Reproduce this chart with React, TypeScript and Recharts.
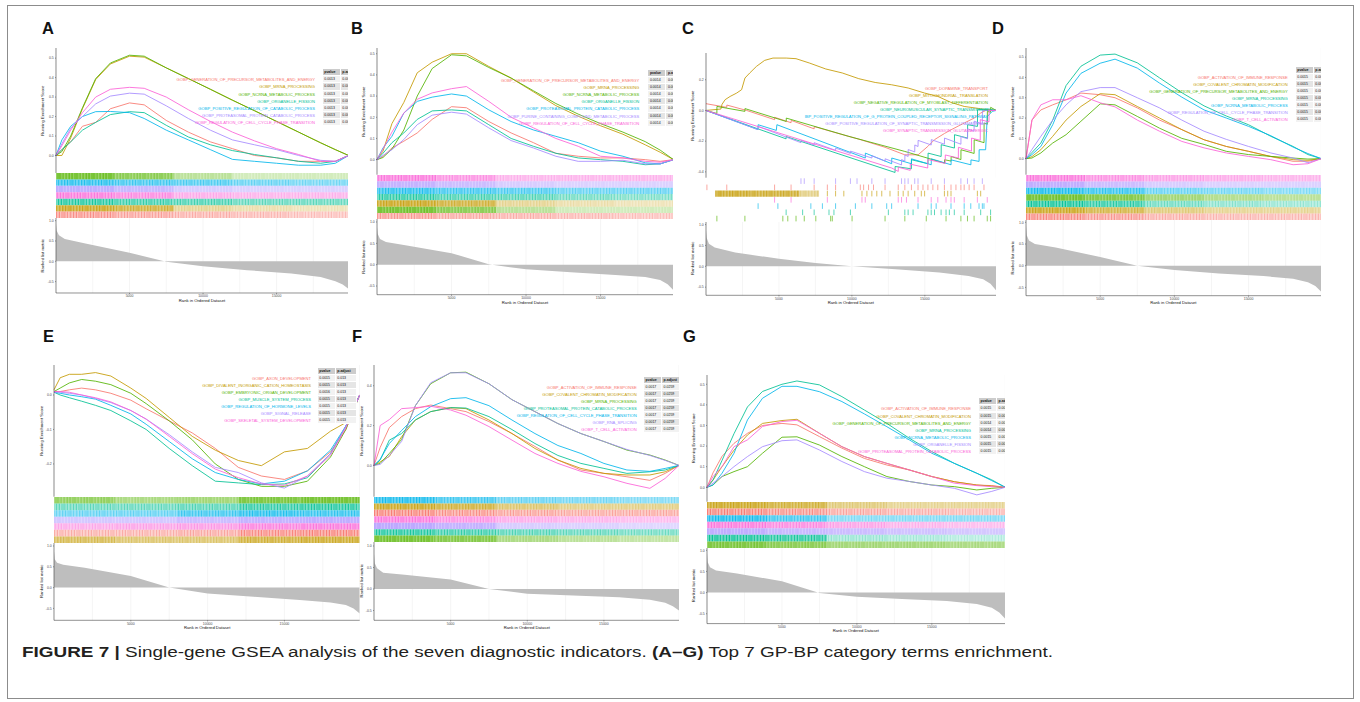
import React from "react";
import {
  Area,
  AreaChart,
  CartesianGrid,
  ComposedChart,
  Line,
  LineChart,
  ReferenceArea,
  ReferenceLine,
  XAxis,
  YAxis,
} from "recharts";

const FONT = '"Liberation Sans", Arial, Helvetica, sans-serif';
const N = 19900;
const colors = ["#F8766D", "#C49A00", "#53B400", "#00C094", "#00B6EB", "#A58AFF", "#FB61D7"];
const gridX = [2500, 5000, 7500, 10000, 12500, 15000, 17500];
const rankTicks = [5000, 10000, 15000];
const metricTicks = [-0.5, 0, 0.5, 1];
const esX = [0, 400, 1000, 1800, 2700, 3700, 5000, 6000, 7500, 9000, 10500, 12000, 13500, 15000, 16500, 18000, 19000, 19900];
const metricX = [0, 50, 200, 600, 2000, 5000, 7500, 10000, 13000, 16000, 18000, 19000, 19500, 19900];
const rugEdges = [0, 4000, 8000, 12000, 16000, 19900];

// ---- A ----
const termsA = [
  "GOBP_GENERATION_OF_PRECURSOR_METABOLITES_AND_ENERGY",
  "GOBP_MRNA_PROCESSING",
  "GOBP_NCRNA_METABOLIC_PROCESS",
  "GOBP_ORGANELLE_FISSION",
  "GOBP_POSITIVE_REGULATION_OF_CATABOLIC_PROCESS",
  "GOBP_PROTEASOMAL_PROTEIN_CATABOLIC_PROCESS",
  "GOBP_REGULATION_OF_CELL_CYCLE_PHASE_TRANSITION",
];
const pvalA = ["0.0013", "0.0013", "0.0013", "0.0013", "0.0013", "0.0013", "0.0013"];
const padjA = ["0.0098", "0.0098", "0.0098", "0.0098", "0.0098", "0.0098", "0.0098"];
const esA = [
  [0, 0.03, 0.07, 0.15, 0.17, 0.24, 0.27, 0.26, 0.18, 0.12, 0.07, 0.035, 0.0, -0.012, -0.03, -0.03, -0.03, 0],
  [0, 0.0, 0.09, 0.24, 0.39, 0.47, 0.51, 0.505, 0.45, 0.395, 0.34, 0.284, 0.23, 0.175, 0.12, 0.065, 0.03, 0],
  [0, 0.02, 0.1, 0.245, 0.395, 0.475, 0.515, 0.51, 0.45, 0.395, 0.34, 0.284, 0.23, 0.175, 0.12, 0.065, 0.03, 0],
  [0, 0.03, 0.07, 0.13, 0.17, 0.21, 0.225, 0.22, 0.155, 0.095, 0.055, 0.025, 0.005, -0.012, -0.03, -0.04, -0.03, 0],
  [0, 0.08, 0.15, 0.2, 0.225, 0.226, 0.22, 0.19, 0.13, 0.08, 0.03, -0.02, -0.03, -0.04, -0.05, -0.05, -0.04, 0],
  [0, 0.06, 0.14, 0.2, 0.265, 0.305, 0.32, 0.315, 0.255, 0.19, 0.13, 0.08, 0.055, 0.03, 0.0, -0.025, -0.03, 0],
  [0, 0.05, 0.13, 0.22, 0.3, 0.34, 0.35, 0.345, 0.3, 0.235, 0.175, 0.12, 0.075, 0.035, 0.005, -0.03, -0.03, 0],
];
const rugOrderA = [2, 4, 5, 6, 3, 1, 0];
const rugDensA = [
  [0.95, 0.75, 0.45, 0.3, 0.3],
  [0.85, 0.75, 0.7, 0.6, 0.55],
  [0.8, 0.7, 0.5, 0.45, 0.45],
  [0.85, 0.75, 0.55, 0.5, 0.5],
  [0.85, 0.75, 0.7, 0.6, 0.6],
  [0.95, 0.8, 0.45, 0.35, 0.3],
  [0.75, 0.65, 0.55, 0.5, 0.45],
];
const metricA = [0.93, 0.75, 0.64, 0.55, 0.44, 0.21, -0.01, -0.12, -0.22, -0.3, -0.39, -0.49, -0.57, -0.68];

// ---- B ----
const termsB = [
  "GOBP_GENERATION_OF_PRECURSOR_METABOLITES_AND_ENERGY",
  "GOBP_MRNA_PROCESSING",
  "GOBP_NCRNA_METABOLIC_PROCESS",
  "GOBP_ORGANELLE_FISSION",
  "GOBP_PROTEASOMAL_PROTEIN_CATABOLIC_PROCESS",
  "GOBP_PURINE_CONTAINING_COMPOUND_METABOLIC_PROCESS",
  "GOBP_REGULATION_OF_CELL_CYCLE_PHASE_TRANSITION",
];
const pvalB = ["0.0014", "0.0014", "0.0014", "0.0014", "0.0014", "0.0014", "0.0014"];
const padjB = ["0.0093", "0.0093", "0.0093", "0.0093", "0.0093", "0.0093", "0.0093"];
const esB = [
  [0, 0.015, 0.055, 0.087, 0.126, 0.19, 0.25, 0.245, 0.18, 0.126, 0.08, 0.03, 0.016, 0.008, 0.008, 0, -0.008, 0],
  [0, 0.04, 0.17, 0.27, 0.41, 0.46, 0.5, 0.5, 0.44, 0.385, 0.32, 0.255, 0.205, 0.16, 0.12, 0.07, 0.035, 0],
  [0, 0.01, 0.05, 0.14, 0.3, 0.43, 0.495, 0.49, 0.435, 0.385, 0.325, 0.265, 0.215, 0.17, 0.13, 0.085, 0.045, 0],
  [0, 0.03, 0.08, 0.126, 0.19, 0.23, 0.235, 0.23, 0.165, 0.1, 0.063, 0.03, 0.008, 0, -0.008, -0.024, -0.02, 0],
  [0, 0.055, 0.11, 0.22, 0.275, 0.295, 0.31, 0.3, 0.235, 0.18, 0.14, 0.11, 0.08, 0.04, 0.016, -0.015, -0.02, 0],
  [0, 0.02, 0.047, 0.095, 0.165, 0.21, 0.224, 0.215, 0.15, 0.09, 0.055, 0.016, -0.008, -0.008, -0.003, -0.02, -0.02, 0],
  [0, 0.05, 0.13, 0.22, 0.285, 0.315, 0.335, 0.345, 0.275, 0.2, 0.15, 0.1, 0.063, 0.016, 0.008, -0.008, -0.012, 0],
];
const rugOrderB = [6, 5, 4, 3, 1, 2, 0];
const rugDensB = [
  [0.85, 0.7, 0.5, 0.5, 0.5],
  [0.75, 0.65, 0.5, 0.45, 0.45],
  [0.85, 0.75, 0.7, 0.6, 0.6],
  [0.8, 0.7, 0.65, 0.55, 0.5],
  [0.95, 0.8, 0.45, 0.35, 0.3],
  [0.9, 0.75, 0.45, 0.3, 0.3],
  [0.7, 0.6, 0.55, 0.5, 0.45],
];
const metricB = [0.88, 0.72, 0.6, 0.53, 0.45, 0.27, 0.01, -0.11, -0.18, -0.24, -0.29, -0.36, -0.46, -0.6];

// ---- C ----
const termsC = [
  "GOBP_DOPAMINE_TRANSPORT",
  "GOBP_MITOCHONDRIAL_TRANSLATION",
  "GOBP_NEGATIVE_REGULATION_OF_MYOBLAST_DIFFERENTIATION",
  "GOBP_NEUROMUSCULAR_SYNAPTIC_TRANSMISSION",
  "IBP_POSITIVE_REGULATION_OF_G_PROTEIN_COUPLED_RECEPTOR_SIGNALING_PATHWAY",
  "GOBP_POSITIVE_REGULATION_OF_SYNAPTIC_TRANSMISSION_GLUTAMATERGIC",
  "GOBP_SYNAPTIC_TRANSMISSION_GLUTAMATERGIC",
];
const pvalC = ["0.0021", "0.0021", "0.0021", "0.0021", "0.0021", "0.0021", "0.0021"];
const padjC = ["0.0310", "0.0310", "0.0310", "0.0310", "0.0310", "0.0310", "0.0310"];
const esCRed = [[0, 0.044], [1420, 0.02], [1430, 0.035], [2780, 0.0], [4700, -0.06], [4710, -0.045], [5830, -0.08], [5840, -0.065], [7413, -0.12], [7420, -0.105], [8883, -0.145], [10579, -0.19], [12275, -0.24], [13630, -0.289], [14540, -0.289], [15210, -0.234], [15670, -0.19], [16350, -0.15], [16800, -0.126], [17700, -0.082], [18380, -0.05], [18830, -0.017], [19290, 0.005], [19900, 0]];
const esCGold = [[0, 0], [1018, 0.009], [1100, 0.04], [1310, 0.07], [1650, 0.091], [2100, 0.113], [2440, 0.135], [2670, 0.211], [3000, 0.244], [3460, 0.287], [4020, 0.326], [4590, 0.341], [5500, 0.341], [6170, 0.337], [7080, 0.309], [8210, 0.27], [9340, 0.244], [10470, 0.207], [11600, 0.182], [12730, 0.167], [13860, 0.146], [14990, 0.113], [15900, 0.091], [16800, 0.052], [17700, 0.026], [18830, 0.011], [19510, 0], [19900, 0]];
const esCGreen = [[0, 0.0], [744, -0.02], [750, 0.026], [2665, -0.006], [2670, 0.012], [5500, -0.072], [5505, -0.05], [9790, -0.169], [13630, -0.267], [16350, -0.343], [16355, -0.321], [16800, -0.33], [16805, -0.3], [17475, -0.32], [17480, -0.256], [18380, -0.28], [18385, -0.191], [19060, -0.21], [19065, -0.082], [19283, -0.09], [19290, -0.006], [19511, -0.012], [19515, 0.02], [19900, 0]];
const esCTeal = [[0, 0], [5490, -0.185], [5495, -0.17], [12960, -0.404], [12965, -0.365], [14080, -0.38], [14085, -0.321], [15220, -0.347], [15225, -0.278], [16120, -0.3], [16125, -0.223], [17030, -0.245], [17035, -0.158], [17930, -0.18], [17935, -0.093], [18610, -0.104], [18615, 0.005], [19400, 0.009], [19900, 0]];
const esCBlue = [[0, 0], [3565, -0.125], [3570, -0.093], [4820, -0.13], [4860, -0.093], [10920, -0.31], [10925, -0.278], [12730, -0.347], [12735, -0.31], [14080, -0.347], [14085, -0.315], [15440, -0.354], [15445, -0.315], [16800, -0.354], [16805, -0.322], [18160, -0.354], [18165, -0.322], [18720, -0.332], [18725, -0.256], [19170, -0.256], [19280, -0.04], [19630, -0.006], [19900, 0]];
const esCPurple = [[0, 0], [3565, -0.125], [3570, -0.104], [6510, -0.21], [6515, -0.195], [7413, -0.225], [7418, -0.21], [8883, -0.26], [8888, -0.245], [9900, -0.28], [9905, -0.265], [11370, -0.31], [11375, -0.295], [12275, -0.33], [12280, -0.315], [13405, -0.355], [13410, -0.32], [13631, -0.33], [13636, -0.29], [13857, -0.3], [13862, -0.255], [14310, -0.27], [14315, -0.225], [14536, -0.235], [14541, -0.195], [15440, -0.225], [15445, -0.19], [16345, -0.22], [16350, -0.18], [17475, -0.22], [17480, -0.17], [17927, -0.185], [17932, -0.12], [18380, -0.135], [18385, -0.07], [18945, -0.09], [18950, 0.0], [19900, 0]];
const esCPink = [[0, 0], [12730, -0.375], [13180, -0.397], [13185, -0.37], [14000, -0.39], [14005, -0.35], [15200, -0.375], [15205, -0.32], [16400, -0.345], [16405, -0.29], [17300, -0.31], [17305, -0.24], [18200, -0.265], [18205, -0.18], [18800, -0.195], [18805, -0.06], [19400, -0.075], [19405, 0.0], [19900, 0]];
const rugOrderC = [5, 0, 1, 6, 4, 3, 2];
const hitsCPurple = [6510, 6735, 7413, 8883, 9900, 10353, 11370, 12275, 13405, 13631, 13857, 14310, 14536, 15440, 16345, 17475, 17927, 18380, 18945];
const hitsCRed = [60, 1422, 4700, 5830, 7413, 8318, 8883, 10579, 10805, 11144, 11483, 12275, 13179, 13631, 14083, 14536, 14875, 15214, 15553, 15892, 16345, 16797, 17136, 17475, 17701, 18040, 18380, 19058];
const hitsCGold = [8318, 8883, 9448, 10692, 11031, 11370, 11709, 12049, 12614, 13179, 13518, 13857, 14310, 14762, 14988, 16345, 16571, 16797, 18605, 18832];
const bandsCGold = [[630, 3000, 0.9], [3000, 6400, 0.85], [6400, 7750, 0.5]];
const hitsCPink = [4700, 5830, 8318, 10692, 10918, 13179, 13405, 13744, 14536, 15440, 15892, 16457, 16797, 17023, 17701, 18605, 19283];
const hitsCBlue = [3570, 4926, 7187, 7979, 8883, 10240, 11370, 12388, 12727, 14536, 15440, 15779, 16797, 17701, 18153, 18718, 18945, 19058];
const hitsCTeal = [5492, 6623, 7413, 8431, 8770, 9900, 12501, 13631, 13857, 14196, 15214, 15440, 15666, 16118, 16457, 16684, 17023, 17701, 18832, 19511];
const hitsCGreen = [744, 2665, 5266, 5605, 6170, 6735, 7527, 8544, 8657, 10013, 12275, 13631, 15101, 16457, 17475, 17927, 18380, 19283, 19511];
const metricC = [0.86, 0.68, 0.54, 0.45, 0.33, 0.18, 0.08, 0.0, -0.07, -0.15, -0.23, -0.31, -0.42, -0.58];

// ---- D ----
const termsD = [
  "GOBP_ACTIVATION_OF_IMMUNE_RESPONSE",
  "GOBP_COVALENT_CHROMATIN_MODIFICATION",
  "GOBP_GENERATION_OF_PRECURSOR_METABOLITES_AND_ENERGY",
  "GOBP_MRNA_PROCESSING",
  "GOBP_NCRNA_METABOLIC_PROCESS",
  "GOBP_REGULATION_OF_CELL_CYCLE_PHASE_TRANSITION",
  "GOBP_T_CELL_ACTIVATION",
];
const pvalD = ["0.0015", "0.0015", "0.0015", "0.0015", "0.0015", "0.0015", "0.0015"];
const padjD = ["0.0082", "0.0082", "0.0082", "0.0082", "0.0082", "0.0082", "0.0082"];
const esD = [
  [0, 0.19, 0.24, 0.265, 0.29, 0.323, 0.315, 0.3, 0.25, 0.19, 0.143, 0.093, 0.06, 0.036, 0.01, -0.013, -0.013, 0],
  [0, 0.01, 0.044, 0.11, 0.19, 0.257, 0.32, 0.315, 0.257, 0.2, 0.143, 0.093, 0.06, 0.036, 0.011, -0.005, -0.008, 0],
  [0, 0.003, 0.028, 0.077, 0.118, 0.184, 0.27, 0.265, 0.208, 0.15, 0.1, 0.07, 0.036, 0.02, 0.011, 0.003, -0.002, 0],
  [0, 0.03, 0.077, 0.19, 0.36, 0.455, 0.51, 0.515, 0.472, 0.398, 0.325, 0.26, 0.21, 0.167, 0.11, 0.06, 0.02, 0],
  [0, 0.02, 0.06, 0.167, 0.323, 0.42, 0.47, 0.49, 0.446, 0.372, 0.303, 0.24, 0.2, 0.159, 0.113, 0.057, 0.025, 0],
  [0, 0.045, 0.11, 0.19, 0.265, 0.33, 0.35, 0.35, 0.3, 0.25, 0.19, 0.135, 0.095, 0.06, 0.028, 0.003, -0.02, 0],
  [0, 0.19, 0.265, 0.29, 0.29, 0.31, 0.275, 0.255, 0.19, 0.135, 0.085, 0.053, 0.028, 0.011, -0.005, -0.03, -0.025, 0],
];
const rugOrderD = [6, 5, 4, 2, 3, 1, 0];
const rugDensD = [
  [0.85, 0.7, 0.6, 0.55, 0.5],
  [0.8, 0.65, 0.5, 0.45, 0.45],
  [0.95, 0.8, 0.6, 0.55, 0.5],
  [0.9, 0.8, 0.6, 0.5, 0.45],
  [0.9, 0.8, 0.55, 0.45, 0.4],
  [0.9, 0.75, 0.55, 0.45, 0.45],
  [0.8, 0.7, 0.55, 0.5, 0.5],
];
const metricD = [0.94, 0.7, 0.58, 0.5, 0.42, 0.2, 0.0, -0.1, -0.18, -0.24, -0.3, -0.38, -0.47, -0.6];

// ---- E ----
const termsE = [
  "GOBP_AXON_DEVELOPMENT",
  "GOBP_DIVALENT_INORGANIC_CATION_HOMEOSTASIS",
  "GOBP_EMBRYONIC_ORGAN_DEVELOPMENT",
  "GOBP_MUSCLE_SYSTEM_PROCESS",
  "GOBP_REGULATION_OF_HORMONE_LEVELS",
  "GOBP_SIGNAL_RELEASE",
  "GOBP_SKELETAL_SYSTEM_DEVELOPMENT",
];
const pvalE = ["0.0015", "0.0015", "0.0016", "0.0015", "0.0015", "0.0015", "0.0015"];
const padjE = ["0.013", "0.013", "0.013", "0.013", "0.013", "0.013", "0.013"];
const esE = [
  [0.01, 0.01, 0.015, 0.02, 0.015, 0.005, -0.015, -0.04, -0.075, -0.11, -0.155, -0.21, -0.235, -0.245, -0.22, -0.165, -0.1, 0],
  [0.015, 0.05, 0.06, 0.06, 0.065, 0.055, 0.02, -0.01, -0.065, -0.12, -0.16, -0.19, -0.205, -0.165, -0.155, -0.105, -0.08, 0],
  [0.01, 0.02, 0.035, 0.045, 0.04, 0.03, 0.005, -0.025, -0.075, -0.13, -0.2, -0.245, -0.265, -0.265, -0.25, -0.18, -0.1, 0],
  [0.008, 0, -0.008, -0.018, -0.03, -0.045, -0.075, -0.1, -0.155, -0.205, -0.25, -0.255, -0.26, -0.258, -0.24, -0.17, -0.09, 0],
  [0.008, 0.005, 0, -0.005, -0.012, -0.03, -0.055, -0.085, -0.135, -0.185, -0.225, -0.245, -0.258, -0.25, -0.22, -0.16, -0.09, 0],
  [0.008, 0.008, 0.005, 0, -0.01, -0.022, -0.045, -0.07, -0.115, -0.165, -0.21, -0.225, -0.255, -0.27, -0.235, -0.17, -0.09, 0],
  [0.01, 0.01, 0.008, 0, -0.008, -0.02, -0.045, -0.07, -0.12, -0.17, -0.215, -0.24, -0.258, -0.262, -0.235, -0.175, -0.095, 0],
];
const rugOrderE = [2, 3, 4, 5, 6, 0, 1];
const rugDensE = [
  [0.7, 0.55, 0.6, 0.85, 0.9],
  [0.6, 0.6, 0.65, 0.8, 0.85],
  [0.6, 0.6, 0.75, 0.85, 0.8],
  [0.55, 0.55, 0.65, 0.75, 0.8],
  [0.55, 0.6, 0.65, 0.8, 0.85],
  [0.55, 0.55, 0.6, 0.8, 0.85],
  [0.7, 0.6, 0.6, 0.8, 0.85],
];
const metricE = [0.88, 0.68, 0.6, 0.55, 0.48, 0.28, 0.0, -0.14, -0.22, -0.3, -0.36, -0.42, -0.5, -0.62];

// ---- F ----
const termsF = [
  "GOBP_ACTIVATION_OF_IMMUNE_RESPONSE",
  "GOBP_COVALENT_CHROMATIN_MODIFICATION",
  "GOBP_MRNA_PROCESSING",
  "GOBP_PROTEASOMAL_PROTEIN_CATABOLIC_PROCESS",
  "GOBP_REGULATION_OF_CELL_CYCLE_PHASE_TRANSITION",
  "GOBP_RNA_SPLICING",
  "GOBP_T_CELL_ACTIVATION",
];
const pvalF = ["0.0017", "0.0017", "0.0017", "0.0017", "0.0017", "0.0017", "0.0017"];
const padjF = ["0.0259", "0.0259", "0.0259", "0.0259", "0.0259", "0.0259", "0.0259"];
const esF = [
  [0, 0.09, 0.19, 0.245, 0.285, 0.303, 0.285, 0.27, 0.22, 0.16, 0.095, 0.027, -0.023, -0.04, -0.057, -0.075, -0.04, 0],
  [0, 0.018, 0.045, 0.144, 0.228, 0.27, 0.29, 0.285, 0.228, 0.16, 0.085, 0.027, -0.015, -0.04, -0.048, -0.048, -0.032, 0],
  [0, 0.01, 0.06, 0.13, 0.3, 0.41, 0.465, 0.468, 0.41, 0.33, 0.27, 0.21, 0.16, 0.12, 0.077, 0.052, 0.027, 0],
  [0, 0.027, 0.127, 0.16, 0.228, 0.27, 0.29, 0.288, 0.245, 0.18, 0.11, 0.05, 0.01, -0.015, -0.04, -0.032, -0.023, 0],
  [0, 0.03, 0.11, 0.175, 0.245, 0.295, 0.335, 0.34, 0.3, 0.228, 0.16, 0.1, 0.06, 0.01, -0.023, -0.03, -0.015, 0],
  [0, 0.005, 0.05, 0.12, 0.3, 0.415, 0.465, 0.465, 0.41, 0.33, 0.27, 0.21, 0.16, 0.12, 0.08, 0.05, 0.025, 0],
  [0, 0.2, 0.23, 0.285, 0.29, 0.297, 0.278, 0.252, 0.195, 0.127, 0.06, 0.01, -0.03, -0.057, -0.09, -0.115, -0.065, 0],
];
const rugOrderF = [4, 1, 0, 6, 5, 3, 2];
const rugDensF = [
  [0.9, 0.75, 0.6, 0.55, 0.5],
  [0.9, 0.8, 0.6, 0.5, 0.5],
  [0.85, 0.75, 0.65, 0.6, 0.6],
  [0.85, 0.7, 0.55, 0.5, 0.45],
  [0.85, 0.75, 0.5, 0.45, 0.4],
  [0.85, 0.75, 0.65, 0.6, 0.55],
  [0.9, 0.8, 0.55, 0.45, 0.4],
];
const metricF = [0.82, 0.6, 0.48, 0.38, 0.33, 0.22, 0.0, -0.11, -0.15, -0.19, -0.25, -0.32, -0.4, -0.5];

// ---- G ----
const termsG = [
  "GOBP_ACTIVATION_OF_IMMUNE_RESPONSE",
  "GOBP_COVALENT_CHROMATIN_MODIFICATION",
  "GOBP_GENERATION_OF_PRECURSOR_METABOLITES_AND_ENERGY",
  "GOBP_MRNA_PROCESSING",
  "GOBP_NCRNA_METABOLIC_PROCESS",
  "GOBP_ORGANELLE_FISSION",
  "GOBP_PROTEASOMAL_PROTEIN_CATABOLIC_PROCESS",
];
const pvalG = ["0.0015", "0.0015", "0.0014", "0.0014", "0.0015", "0.0015", "0.0015"];
const padjG = ["0.0087", "0.0087", "0.0087", "0.0087", "0.0087", "0.0087", "0.0087"];
const esG = [
  [0, 0.07, 0.15, 0.213, 0.262, 0.3, 0.31, 0.303, 0.246, 0.19, 0.14, 0.108, 0.084, 0.052, 0.027, 0.011, 0.008, 0],
  [0, 0.035, 0.1, 0.18, 0.254, 0.31, 0.324, 0.33, 0.262, 0.197, 0.149, 0.116, 0.084, 0.052, 0.027, 0.011, 0.006, 0],
  [0, 0.011, 0.052, 0.076, 0.1, 0.165, 0.243, 0.245, 0.205, 0.149, 0.1, 0.052, 0.028, 0.011, 0.003, -0.013, -0.005, 0],
  [0, 0.035, 0.13, 0.26, 0.39, 0.465, 0.5, 0.516, 0.497, 0.44, 0.375, 0.31, 0.238, 0.173, 0.116, 0.068, 0.036, 0],
  [0, 0.011, 0.068, 0.165, 0.327, 0.432, 0.49, 0.49, 0.464, 0.416, 0.356, 0.294, 0.23, 0.165, 0.116, 0.068, 0.032, 0],
  [0, 0.02, 0.052, 0.1, 0.149, 0.197, 0.226, 0.23, 0.181, 0.125, 0.076, 0.044, 0.028, 0.011, -0.005, -0.037, -0.02, 0],
  [0, 0.052, 0.1, 0.197, 0.23, 0.295, 0.319, 0.325, 0.262, 0.197, 0.149, 0.116, 0.084, 0.052, 0.02, 0.008, 0.003, 0],
];
const rugOrderG = [1, 0, 4, 6, 5, 3, 2];
const rugDensG = [
  [0.9, 0.8, 0.55, 0.45, 0.45],
  [0.85, 0.75, 0.6, 0.55, 0.5],
  [0.95, 0.75, 0.5, 0.5, 0.5],
  [0.85, 0.75, 0.6, 0.5, 0.45],
  [0.8, 0.7, 0.65, 0.6, 0.55],
  [0.95, 0.85, 0.4, 0.35, 0.3],
  [0.85, 0.75, 0.6, 0.6, 0.55],
];
const metricG = [0.93, 0.72, 0.6, 0.52, 0.45, 0.27, -0.01, -0.1, -0.15, -0.2, -0.27, -0.36, -0.47, -0.62];

const onGrid = (rows: number[][]) => rows.map((r) => r.map((y, k) => [esX[k], y]));
const densToBands = (rows: number[][]) =>
  rows.map((r) => r.map((d, k) => [rugEdges[k], rugEdges[k + 1], d]));

const ticks01 = [0, 0.1, 0.2, 0.3, 0.4, 0.5];

const panels = [
  { id: "A", terms: termsA, pval: pvalA, padj: padjA, es: onGrid(esA), order: rugOrderA, bands: densToBands(rugDensA), hits: null as any, metric: metricA, esTicks: ticks01,
    lx: 42, ly: 34, left: 55.7, right: 348.3, esTop: 48.3, rugTop: 173.3, metTop: 218.3, metBottom: 293.3, esDom: [-0.09, 0.552], metDom: [-0.781, 1.066], labelRight: 315, tableLeft: 322.7, headTop: 69.3 },
  { id: "B", terms: termsB, pval: pvalB, padj: padjB, es: onGrid(esB), order: rugOrderB, bands: densToBands(rugDensB), hits: null as any, metric: metricB, esTicks: ticks01,
    lx: 351, ly: 34, left: 376.7, right: 673.3, esTop: 48.3, rugTop: 175, metTop: 219.3, metBottom: 295, esDom: [-0.071, 0.527], metDom: [-0.703, 1.07], labelRight: 639.3, tableLeft: 648.3, headTop: 70 },
  { id: "C", terms: termsC, pval: pvalC, padj: padjC, es: [esCRed, esCGold, esCGreen, esCTeal, esCBlue, esCPurple, esCPink], order: rugOrderC,
    bands: [[], [], bandsCGold, [], [], [], []], hits: [hitsCPurple, hitsCRed, hitsCGold, hitsCPink, hitsCBlue, hitsCTeal, hitsCGreen], metric: metricC, esTicks: [-0.4, -0.2, 0, 0.2],
    lx: 682, ly: 34, left: 705.7, right: 996, esTop: 53.3, rugTop: 178, metTop: 221.7, metBottom: 295, esDom: [-0.438, 0.374], metDom: [-0.695, 1.062], labelRight: 988, tableLeft: 996, headTop: 77.7 },
  { id: "D", terms: termsD, pval: pvalD, padj: padjD, es: onGrid(esD), order: rugOrderD, bands: densToBands(rugDensD), hits: null as any, metric: metricD, esTicks: ticks01,
    lx: 992, ly: 34, left: 1025.7, right: 1321, esTop: 48.3, rugTop: 175, metTop: 220, metBottom: 295.7, esDom: [-0.079, 0.545], metDom: [-0.691, 1.053], labelRight: 1287.7, tableLeft: 1295.7, headTop: 66.7 },
  { id: "E", terms: termsE, pval: pvalE, padj: padjE, es: onGrid(esE), order: rugOrderE, bands: densToBands(rugDensE), hits: null as any, metric: metricE, esTicks: [-0.2, -0.1, 0],
    lx: 43, ly: 342, left: 54.3, right: 360, esTop: 365, rugTop: 496.7, metTop: 542.7, metBottom: 620, esDom: [-0.295, 0.087], metDom: [-0.786, 1.072], labelRight: 311, tableLeft: 317.7, headTop: 367.7 },
  { id: "F", terms: termsF, pval: pvalF, padj: padjF, es: onGrid(esF), order: rugOrderF, bands: densToBands(rugDensF), hits: null as any, metric: metricF, esTicks: [0, 0.2, 0.4],
    lx: 352, ly: 342, left: 374.3, right: 679.3, esTop: 365, rugTop: 496.7, metTop: 541.7, metBottom: 620, esDom: [-0.157, 0.504], metDom: [-0.728, 1.093], labelRight: 636.7, tableLeft: 644, headTop: 376.7 },
  { id: "G", terms: termsG, pval: pvalG, padj: padjG, es: onGrid(esG), order: rugOrderG, bands: densToBands(rugDensG), hits: null as any, metric: metricG, esTicks: ticks01,
    lx: 683, ly: 342, left: 706.7, right: 1005, esTop: 375, rugTop: 501.7, metTop: 547.7, metBottom: 623.3, esDom: [-0.07, 0.545], metDom: [-0.733, 1.054], labelRight: 971, tableLeft: 979, headTop: 398.3 },
];

const AX = 20;
const XH = 10;
const ROW = 7.1;
const noMargin = { top: 0, right: 0, bottom: 0, left: 0 };
const tickStyle = { fontSize: 3.5, fill: "#4d4d4d", fontFamily: FONT };
const axisLine = { stroke: "#222", strokeWidth: 0.5 };
const tickLine = { stroke: "#222", strokeWidth: 0.4 };
const fmt = (v: number) => v.toFixed(1);
const stripes = [[0, 1.0], [1.7, 0.6], [2.9, 1.2], [4.9, 0.7], [6.2, 0.6], [7.4, 1.3], [9.5, 0.7], [10.9, 1.0], [12.8, 0.5], [13.9, 0.9], [15.6, 0.6]];

function Panel({ p }: { p: any }) {
  const w = p.right - p.left;
  const esH = p.rugTop - p.esTop;
  const rugH = p.metTop - p.rugTop;
  const metH = p.metBottom - p.metTop;
  const metData = metricX.map((x, i) => ({ x, y: p.metric[i] }));
  const bounds = [{ x: 0, y: 0 }, { x: N, y: 7 }];
  return (
    <>
      <div style={{ position: "absolute", left: p.left - AX, top: p.esTop }}>
        <LineChart width={w + AX} height={esH} margin={noMargin}>
          <XAxis type="number" dataKey="x" domain={[0, N]} hide />
          <XAxis xAxisId="g" type="number" dataKey="x" domain={[0, N]} ticks={gridX} interval={0} hide />
          <YAxis type="number" domain={p.esDom} ticks={p.esTicks} interval={0} width={AX} tick={tickStyle}
            tickSize={1} tickMargin={1.2} axisLine={axisLine} tickLine={tickLine} tickFormatter={fmt} allowDataOverflow />
          <CartesianGrid xAxisId="g" horizontal={false} stroke="#ebebeb" strokeWidth={0.5} />
          {p.es.map((pts: number[][], i: number) => (
            <Line key={i} data={pts.map(([x, y]) => ({ x, y }))} dataKey="y" type="linear" stroke={colors[i]}
              strokeWidth={0.85} dot={false} activeDot={false} isAnimationActive={false} />
          ))}
        </LineChart>
      </div>
      <div style={{ position: "absolute", left: p.left, top: p.rugTop }}>
        <ComposedChart width={w} height={rugH} data={bounds} margin={noMargin}>
          <defs>
            {colors.map((c, i) => (
              <pattern key={i} id={`bc${p.id}${i}`} width={17} height={20} patternUnits="userSpaceOnUse" patternTransform={`translate(${i * 6.3},0)`}>
                <rect x={0} y={0} width={17} height={20} fill={c} fillOpacity={0.42} />
                {stripes.map(([x, sw], k) => (
                  <rect key={k} x={x} y={0} width={sw} height={20} fill={c} />
                ))}
              </pattern>
            ))}
          </defs>
          <XAxis type="number" dataKey="x" domain={[0, N]} hide />
          <YAxis type="number" dataKey="y" domain={[0, 7]} hide />
          <Line dataKey="y" stroke="none" dot={false} activeDot={false} isAnimationActive={false} />
          {p.order.map((t: number, r: number) =>
            p.bands[r].map((b: number[], k: number) => (
              <ReferenceArea key={`b${r}-${k}`} x1={b[0]} x2={b[1]} y1={6 - r} y2={7 - r}
                fill={`url(#bc${p.id}${t})`} fillOpacity={Math.min(1, b[2] * 1.1)} stroke="none" ifOverflow="visible" />
            ))
          )}
          {p.hits &&
            p.order.map((t: number, r: number) =>
              p.hits[r].map((h: number, k: number) => (
                <ReferenceLine key={`h${r}-${k}`} segment={[{ x: h, y: 6.05 - r }, { x: h, y: 6.95 - r }]}
                  stroke={colors[t]} strokeWidth={0.8} strokeOpacity={0.8} ifOverflow="visible" />
              ))
            )}
        </ComposedChart>
      </div>
      <div style={{ position: "absolute", left: p.left - AX, top: p.metTop }}>
        <AreaChart width={w + AX} height={metH + XH} data={metData} margin={noMargin}>
          <XAxis type="number" dataKey="x" domain={[0, N]} ticks={rankTicks} interval={0} height={XH} tick={tickStyle}
            tickSize={1.2} tickMargin={0.6} axisLine={axisLine} tickLine={tickLine} allowDataOverflow />
          <XAxis xAxisId="g" type="number" dataKey="x" domain={[0, N]} ticks={gridX} interval={0} hide />
          <YAxis type="number" domain={p.metDom} ticks={metricTicks} interval={0} width={AX} tick={tickStyle}
            tickSize={1} tickMargin={1.2} axisLine={axisLine} tickLine={tickLine} tickFormatter={fmt} allowDataOverflow />
          <CartesianGrid xAxisId="g" horizontal={false} stroke="#ebebeb" strokeWidth={0.5} />
          <Area type="linear" dataKey="y" baseValue={0} stroke="none" fill="#bebebe" fillOpacity={1} isAnimationActive={false} />
        </AreaChart>
      </div>
      <div style={{ position: "absolute", left: p.left, top: p.esTop, width: w, height: esH, overflow: "hidden", fontFamily: FONT, zIndex: 3 }}>
        {p.terms.map((t: string, i: number) => (
          <div key={t} style={{ position: "absolute", right: p.right - p.labelRight, top: p.headTop - p.esTop + ROW * (i + 1),
            height: ROW, lineHeight: `${ROW}px`, fontSize: 4.1, color: colors[i], whiteSpace: "nowrap" }}>{t}</div>
        ))}
        {[["pvalue", ...p.pval], ["p.adjust", ...p.padj]].map((col: string[], c: number) =>
          col.map((v, r) => (
            <div key={`${c}-${r}`} style={{ position: "absolute", left: p.tableLeft - p.left + c * 18, top: p.headTop - p.esTop + ROW * r,
              width: c === 0 ? 18 : 21.7, height: ROW, lineHeight: `${ROW}px`, fontSize: 3.5, paddingLeft: 1.6, boxSizing: "border-box",
              background: r === 0 ? "#cccccc" : r % 2 === 1 ? "#f2f2f2" : "#e5e5e5", borderRight: "0.5px solid #fff", borderBottom: "0.5px solid #fff",
              fontWeight: r === 0 ? "bold" : "normal", color: "#111", whiteSpace: "nowrap" }}>{v}</div>
          ))
        )}
      </div>
    </>
  );
}

function Overlay() {
  return (
    <svg width={1360} height={702} style={{ position: "absolute", left: 0, top: 0 }} fontFamily={FONT}>
      <rect x={7.5} y={5.5} width={1346} height={693} fill="none" stroke="#8c8c8c" strokeWidth={1} />
      {panels.map((p) => (
        <g key={p.id}>
          <text x={p.lx} y={p.ly} fontSize={16.5} fontWeight="bold" fill="#111">{p.id}</text>
          <text transform={`translate(${p.left - 12.5},${(p.esTop + p.rugTop) / 2}) rotate(-90)`} textAnchor="middle"
            dominantBaseline="middle" fontSize={4.2} fill="#111">Running Enrichment Score</text>
          <text transform={`translate(${p.left - 12.5},${(p.metTop + p.metBottom) / 2}) rotate(-90)`} textAnchor="middle"
            dominantBaseline="middle" fontSize={4.2} fill="#111">Ranked list metric</text>
          <text x={(p.left + p.right) / 2} y={p.metBottom + 8.7} textAnchor="middle" fontSize={4.2} fill="#111">Rank in Ordered Dataset</text>
        </g>
      ))}
      <text x={22} y={657} fontSize={15.5} fill="#231f20" textLength={1031} lengthAdjust="spacingAndGlyphs">
        <tspan fontWeight="bold">FIGURE 7 | </tspan>
        Single-gene GSEA analysis of the seven diagnostic indicators.{" "}
        <tspan fontWeight="bold">(A–G)</tspan> Top 7 GP-BP category terms enrichment.
      </text>
    </svg>
  );
}

export default function App() {
  return (
    <div style={{ position: "absolute", left: 0, top: 0, width: 1360, height: 702, background: "#fff", overflow: "hidden" }}>
      <Overlay />
      {panels.map((p) => (
        <Panel key={p.id} p={p} />
      ))}
    </div>
  );
}
